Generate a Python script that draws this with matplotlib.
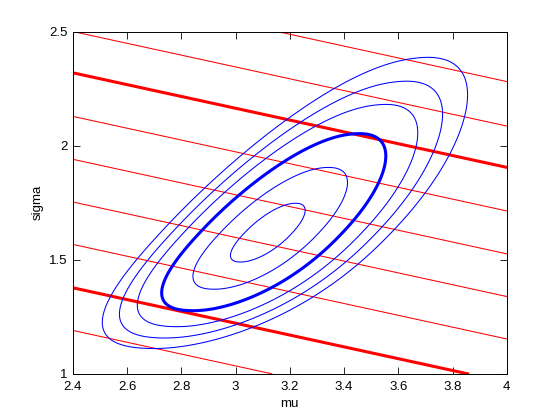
import numpy as np
import matplotlib.pyplot as plt

# blue contours: surface in (mu - b*sigma, log sigma), levels as "radius"
e0 = 1.842
bend = 0.41
b = 0.79
w0 = 0.478
sd_e = 0.262
sd_w = 0.237
power = 2.15
skew_e = 0.08
skew_w = 0.03
blue_levels = [0.336, 0.693, 1.0, 1.245, 1.428, 1.606]
blue_widths = [0.75, 0.75, 2.2, 0.75, 0.75, 0.75]

# red lines: sigma value at mu = 2.4, all with the same slope
red_slope = -0.259
red_intercepts = [1.19, 1.377, 1.567, 1.753, 1.94, 2.128, 2.319, 2.50, 2.695]
red_thick = [False, True, False, False, False, False, True, False, False]

xticks = [2.4, 2.6, 2.8, 3.0, 3.2, 3.4, 3.6, 3.8, 4.0]
yticks = [1, 1.5, 2, 2.5]

plt.rcParams['font.family'] = ['Liberation Sans', 'DejaVu Sans']

fig = plt.figure(figsize=(5.6, 4.2), dpi=100)
ax = fig.add_axes([0.13, 0.11, 0.775, 0.815])

for a, thick in zip(red_intercepts, red_thick):
    ax.axline((2.4, a), slope=red_slope, color='red', lw=2.2 if thick else 0.75)

mu = np.linspace(2.4, 4, 500)
sig = np.linspace(1, 2.5, 500)
M, S = np.meshgrid(mu, sig)
W = np.log(S) - w0
X = (M - b * S - (e0 - bend * W ** 2)) / sd_e
Y = W / sd_w
Q = (np.abs(X) ** power + np.abs(Y) ** power) ** (2 / power)
F = Q - (skew_e * X + skew_w * Y) * (X ** 2 + Y ** 2)
ax.contour(M, S, F, levels=np.square(blue_levels), colors='blue', linewidths=blue_widths)

ax.set_xlim(2.4, 4)
ax.set_ylim(1, 2.5)
ax.set_xticks(xticks)
ax.set_xticklabels(['%g' % t for t in xticks])
ax.set_yticks(yticks)
ax.set_yticklabels(['%g' % t for t in yticks])
ax.tick_params(direction='in', top=True, right=True, length=5, width=0.6,
               labelsize=9.5)
ax.tick_params(axis='x', pad=5)
for sp in ax.spines.values():
    sp.set_linewidth(0.7)
ax.set_xlabel('mu', fontsize=9.5)
ax.set_ylabel('sigma', fontsize=9.5)

fig.savefig('out.png', dpi=100)
